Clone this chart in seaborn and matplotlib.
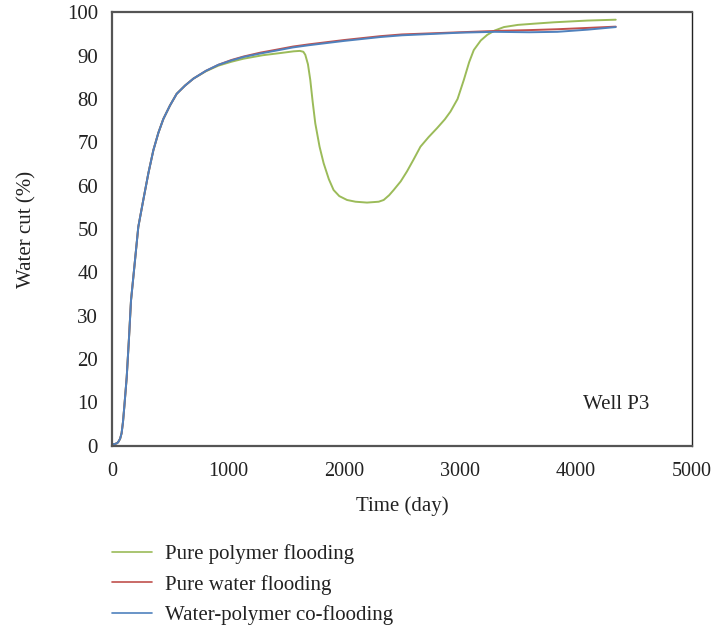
import numpy as np
import pandas as pd
import matplotlib
matplotlib.use("Agg")
import matplotlib.pyplot as plt
from matplotlib.lines import Line2D
import seaborn as sns

# ---- data ----
water_days = [0, 25, 45, 55, 70, 83, 95, 106, 127, 147, 164, 193, 227, 270, 314, 357, 400,
              443, 500, 558, 630, 702, 810, 918, 1030, 1134, 1280, 1422, 1560, 1695, 2000,
              2314, 2500, 3000, 3300, 3600, 3840, 4100, 4344]
water_cut = [0.3, 0.4, 0.6, 0.9, 1.6, 2.9, 5.5, 8.9, 15.8, 25.0, 33.5, 41.3, 50.5, 56.7,
             62.9, 68.2, 72.2, 75.4, 78.5, 81.2, 83.1, 84.7, 86.5, 87.9, 89.0, 89.8, 90.7,
             91.4, 92.1, 92.6, 93.6, 94.5, 94.9, 95.4, 95.7, 95.9, 96.1, 96.4, 96.7]

co_days = [0, 25, 45, 55, 70, 83, 95, 106, 127, 147, 164, 193, 227, 270, 314, 357, 400,
           443, 500, 558, 630, 702, 810, 918, 1030, 1134, 1280, 1422, 1560, 1695, 2000,
           2314, 2500, 3000, 3300, 3600, 3840, 4100, 4344]
co_cut = [0.3, 0.4, 0.6, 0.9, 1.6, 2.9, 5.5, 8.9, 15.8, 25.0, 33.5, 41.3, 50.5, 56.7,
          62.9, 68.2, 72.2, 75.4, 78.5, 81.2, 83.1, 84.7, 86.5, 87.9, 88.9, 89.7, 90.5,
          91.2, 91.9, 92.4, 93.4, 94.3, 94.7, 95.3, 95.5, 95.4, 95.5, 96.0, 96.6]

poly_days = [0, 25, 45, 55, 70, 83, 95, 106, 127, 147, 164, 193, 227, 270, 314, 357, 400,
             443, 500, 558, 630, 702, 810, 918, 1030, 1134, 1300, 1451, 1566, 1620, 1650,
             1667, 1690, 1710, 1730, 1753, 1790, 1825, 1870, 1911, 1960, 2027, 2100, 2199,
             2300, 2343, 2390, 2429, 2490, 2544, 2600, 2660, 2730, 2804, 2870, 2919, 2980,
             3034, 3080, 3120, 3180, 3236, 3300, 3380, 3500, 3650, 3810, 4100, 4344]
poly_cut = [0.3, 0.4, 0.6, 0.9, 1.6, 2.9, 5.5, 8.9, 15.8, 25.0, 33.5, 41.3, 50.5, 56.7,
            62.9, 68.2, 72.2, 75.4, 78.5, 81.2, 83.1, 84.7, 86.4, 87.7, 88.6, 89.3, 90.1,
            90.6, 91.0, 91.1, 90.9, 90.2, 88.0, 84.4, 79.5, 74.4, 69.0, 65.2, 61.5, 59.0,
            57.6, 56.7, 56.3, 56.1, 56.3, 56.7, 57.8, 59.0, 61.0, 63.3, 66.0, 69.0, 71.2,
            73.3, 75.3, 77.1, 80.0, 84.4, 88.5, 91.3, 93.5, 94.8, 95.8, 96.6, 97.1, 97.4,
            97.7, 98.1, 98.3]

labels = ["Pure polymer flooding", "Pure water flooding", "Water-polymer co-flooding"]
colors = ["#9BBB59", "#C0504D", "#4F81BD"]

x_ticks = [0, 1000, 2000, 3000, 4000, 5000]
y_ticks = [0, 10, 20, 30, 40, 50, 60, 70, 80, 90, 100]

df = pd.concat([
    pd.DataFrame({"day": poly_days, "cut": poly_cut, "case": labels[0]}),
    pd.DataFrame({"day": water_days, "cut": water_cut, "case": labels[1]}),
    pd.DataFrame({"day": co_days, "cut": co_cut, "case": labels[2]}),
], ignore_index=True)

sns.set_theme(style="white")
plt.rcParams["font.family"] = ["Liberation Serif", "DejaVu Serif"]

FS = 15
fig = plt.figure(figsize=(7.11, 6.29), dpi=100)
ax = fig.add_axes([0.1575, 0.2914, 0.8155, 0.689])

sns.lineplot(data=df, x="day", y="cut", hue="case", hue_order=labels,
             palette=dict(zip(labels, colors)), sort=False, estimator=None,
             linewidth=1.4, ax=ax, legend=False)

ax.set_xlim(0, 5000)
ax.set_ylim(0, 100)
ax.set_xticks(x_ticks)
ax.set_yticks(y_ticks)
ax.tick_params(axis="both", which="major", labelsize=FS, length=6, width=1.3,
               direction="out", colors="#555555", labelcolor="#222222")
ax.tick_params(axis="x", pad=6, labelsize=14.5)
ax.tick_params(axis="y", pad=4)
for side in ["left", "bottom", "top"]:
    ax.spines[side].set_color("#555555")
    ax.spines[side].set_linewidth(1.6)
ax.spines["right"].set_color("#222222")
ax.spines["right"].set_linewidth(1.0)

ax.set_xlabel("Time (day)", fontsize=FS, color="#222222", labelpad=11)
ax.set_ylabel("Water cut (%)", fontsize=FS, color="#222222", labelpad=22)

ax.text(0.869, 0.094, "Well P3", transform=ax.transAxes, fontsize=FS,
        color="#222222", ha="center", va="center")

handles = [Line2D([0], [0], color=c, linewidth=1.2) for c in colors]
fig.legend(handles, labels, loc="upper left", bbox_to_anchor=(112 / 711, 1 - 544 / 629),
           frameon=False, fontsize=FS, handlelength=1.92, handletextpad=0.62,
           labelspacing=0.52, borderpad=0, borderaxespad=0, labelcolor="#222222")

fig.savefig("out.png", dpi=100)
